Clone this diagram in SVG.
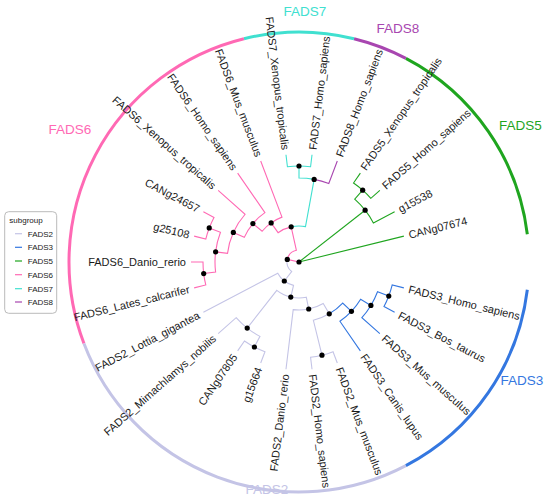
<svg xmlns="http://www.w3.org/2000/svg" width="550" height="501" viewBox="0 0 550 501">
<style>
text{font-family:"Liberation Sans",Arial,sans-serif}
.lab{font-size:11px;fill:#1a1a1a}
.end{text-anchor:end}
.e{fill:none;stroke-width:1.1}
.c2{stroke:#c4c4e6}.c3{stroke:#3477e0}.c5{stroke:#1fa51f}.c6{stroke:#ff69b4}.c7{stroke:#40e0d0}.c8{stroke:#a846b0}
.strip{fill:none;stroke-width:3}
.gl{font-size:13.5px}
.dot{fill:#000}
.lg{font-size:8px;fill:#1a1a1a}
</style>
<g id="strips">
<path class="strip c5" d="M527.32,234.28 A230,230 0 0 0 405.89,58.34"/>
<path class="strip c8" d="M405.89,58.34 A230,230 0 0 0 354.04,38.68"/>
<path class="strip c7" d="M354.04,38.68 A230,230 0 0 0 243.96,38.68"/>
<path class="strip c6" d="M243.96,38.68 A230,230 0 0 0 83.95,343.56"/>
<path class="strip c2" d="M83.95,343.56 A230,230 0 0 0 405.89,465.66"/>
<path class="strip c3" d="M405.89,465.66 A230,230 0 0 0 527.32,289.72"/>
</g>
<g id="group-labels">
<text class="gl" x="305" y="16" text-anchor="middle" fill="#40e0d0">FADS7</text>
<text class="gl" x="398" y="33" text-anchor="middle" fill="#a846b0">FADS8</text>
<text class="gl" x="499" y="130" fill="#1fa51f">FADS5</text>
<text class="gl" x="70" y="134" text-anchor="middle" fill="#ff69b4">FADS6</text>
<text class="gl" x="522" y="385" text-anchor="middle" fill="#3477e0">FADS3</text>
<text class="gl" x="267" y="494" text-anchor="middle" fill="#c4c4e6">FADS2</text>
</g>
<g id="connectors">
<path class="e c5" d="M299,262 L403.86,236.15"/>
<path class="e c5" d="M299,262 L365.12,210.20"/>
<path class="e c6" d="M299,262 L287.29,259.38"/>
<path class="e c5" d="M365.12,210.20 A84,84 0 0 1 373.38,222.96 L394.63,211.81"/>
<path class="e c5" d="M365.12,210.20 A84,84 0 0 0 354.70,199.13 L362.66,190.14"/>
<path class="e c5" d="M362.66,190.14 A96,96 0 0 1 370.86,198.34 L379.84,190.38"/>
<path class="e c5" d="M362.66,190.14 A96,96 0 0 0 353.53,182.99 L360.35,173.12"/>
<path class="e c6" d="M287.29,259.38 A12,12 0 0 1 296.39,250.29 L291.18,226.86"/>
<path class="e c2" d="M287.29,259.38 A12,12 0 0 0 291.65,271.49 L284.31,280.98"/>
<path class="e c7" d="M291.18,226.86 A36,36 0 0 1 305.49,226.59 L314.14,179.38"/>
<path class="e c6" d="M291.18,226.86 A36,36 0 0 0 278.10,232.68 L271.14,222.91"/>
<path class="e c8" d="M314.14,179.38 A84,84 0 0 1 328.79,183.46 L337.30,161.02"/>
<path class="e c7" d="M314.14,179.38 A84,84 0 0 0 299,178 L299,166"/>
<path class="e c7" d="M299,166 A96,96 0 0 1 310.57,166.70 L312.02,154.79"/>
<path class="e c7" d="M299,166 A96,96 0 0 0 287.43,166.70 L285.98,154.79"/>
<path class="e c6" d="M271.14,222.91 A48,48 0 0 1 281.98,217.12 L260.70,161.02"/>
<path class="e c6" d="M271.14,222.91 A48,48 0 0 0 262.13,231.27 L252.91,223.59"/>
<path class="e c6" d="M252.91,223.59 A60,60 0 0 1 264.92,212.62 L237.65,173.12"/>
<path class="e c6" d="M252.91,223.59 A60,60 0 0 0 244.29,237.37 L233.34,232.45"/>
<path class="e c6" d="M233.34,232.45 A72,72 0 0 1 245.11,214.26 L218.16,190.38"/>
<path class="e c6" d="M233.34,232.45 A72,72 0 0 0 227.52,253.32 L215.61,251.87"/>
<path class="e c6" d="M215.61,251.87 A84,84 0 0 1 220.46,232.21 L209.24,227.96"/>
<path class="e c6" d="M215.61,251.87 A84,84 0 0 0 215.61,272.13 L203.70,273.57"/>
<path class="e c6" d="M209.24,227.96 A96,96 0 0 1 214.00,217.39 L203.37,211.81"/>
<path class="e c6" d="M209.24,227.96 A96,96 0 0 0 205.79,239.03 L194.14,236.15"/>
<path class="e c6" d="M203.70,273.57 A96,96 0 0 1 203,262 L191,262"/>
<path class="e c6" d="M203.70,273.57 A96,96 0 0 0 205.79,284.97 L194.14,287.85"/>
<path class="e c2" d="M284.31,280.98 A24,24 0 0 1 277.75,273.15 L203.37,312.19"/>
<path class="e c2" d="M284.31,280.98 A24,24 0 0 0 293.52,285.37 L290.78,297.05"/>
<path class="e c2" d="M290.78,297.05 A36,36 0 0 1 276.80,290.34 L247.20,328.12"/>
<path class="e c2" d="M290.78,297.05 A36,36 0 0 0 306.29,297.25 L308.72,309.01"/>
<path class="e c2" d="M247.20,328.12 A84,84 0 0 1 236.13,317.70 L218.16,333.62"/>
<path class="e c2" d="M247.20,328.12 A84,84 0 0 0 259.96,336.38 L254.39,347.00"/>
<path class="e c2" d="M254.39,347.00 A96,96 0 0 1 244.47,341.01 L237.65,350.88"/>
<path class="e c2" d="M254.39,347.00 A96,96 0 0 0 264.96,351.76 L260.70,362.98"/>
<path class="e c2" d="M308.72,309.01 A48,48 0 0 1 293.21,309.65 L285.98,369.21"/>
<path class="e c2" d="M308.72,309.01 A48,48 0 0 0 323.21,303.45 L329.26,313.81"/>
<path class="e c2" d="M329.26,313.81 A60,60 0 0 1 313.36,320.26 L321.97,355.21"/>
<path class="e c3" d="M329.26,313.81 A60,60 0 0 0 342.69,303.13 L351.43,311.35"/>
<path class="e c2" d="M321.97,355.21 A96,96 0 0 1 310.57,357.30 L312.02,369.21"/>
<path class="e c2" d="M321.97,355.21 A96,96 0 0 0 333.04,351.76 L337.30,362.98"/>
<path class="e c3" d="M351.43,311.35 A72,72 0 0 1 339.90,321.25 L360.35,350.88"/>
<path class="e c3" d="M351.43,311.35 A72,72 0 0 0 360.62,299.25 L370.89,305.46"/>
<path class="e c3" d="M370.89,305.46 A84,84 0 0 1 361.87,317.70 L379.84,333.62"/>
<path class="e c3" d="M370.89,305.46 A84,84 0 0 0 377.54,291.79 L388.76,296.04"/>
<path class="e c3" d="M388.76,296.04 A96,96 0 0 1 384.00,306.61 L394.63,312.19"/>
<path class="e c3" d="M388.76,296.04 A96,96 0 0 0 392.21,284.97 L403.86,287.85"/>
</g>
<g id="internal-nodes">
<circle id="n-root" class="dot" cx="299" cy="262" r="2.6"/>
<circle id="n-A" class="dot" cx="365.12" cy="210.20" r="2.6"/>
<circle id="n-F5" class="dot" cx="362.66" cy="190.14" r="2.6"/>
<circle id="n-B" class="dot" cx="287.29" cy="259.38" r="2.6"/>
<circle id="n-C" class="dot" cx="291.18" cy="226.86" r="2.6"/>
<circle id="n-E" class="dot" cx="314.14" cy="179.38" r="2.6"/>
<circle id="n-P" class="dot" cx="299" cy="166" r="2.6"/>
<circle id="n-F" class="dot" cx="271.14" cy="222.91" r="2.6"/>
<circle id="n-Q" class="dot" cx="252.91" cy="223.59" r="2.6"/>
<circle id="n-R" class="dot" cx="233.34" cy="232.45" r="2.6"/>
<circle id="n-S" class="dot" cx="215.61" cy="251.87" r="2.6"/>
<circle id="n-T" class="dot" cx="209.24" cy="227.96" r="2.6"/>
<circle id="n-U" class="dot" cx="203.70" cy="273.57" r="2.6"/>
<circle id="n-D" class="dot" cx="284.31" cy="280.98" r="2.6"/>
<circle id="n-G" class="dot" cx="290.78" cy="297.05" r="2.6"/>
<circle id="n-H" class="dot" cx="247.20" cy="328.12" r="2.6"/>
<circle id="n-J" class="dot" cx="254.39" cy="347.00" r="2.6"/>
<circle id="n-I" class="dot" cx="308.72" cy="309.01" r="2.6"/>
<circle id="n-K" class="dot" cx="329.26" cy="313.81" r="2.6"/>
<circle id="n-L" class="dot" cx="321.97" cy="355.21" r="2.6"/>
<circle id="n-M" class="dot" cx="351.43" cy="311.35" r="2.6"/>
<circle id="n-N" class="dot" cx="370.89" cy="305.46" r="2.6"/>
<circle id="n-O" class="dot" cx="388.76" cy="296.04" r="2.6"/>
</g>
<g id="leaves">
<g id="leaf-CANg07674"><text class="lab" dy=".35em" transform="translate(408.72,234.96) rotate(-13.846)">CANg07674</text></g>
<g id="leaf-g15538"><text class="lab" dy=".35em" transform="translate(399.06,209.49) rotate(-27.692)">g15538</text></g>
<g id="leaf-FADS5_Homo_sapiens"><text class="lab" dy=".35em" transform="translate(383.58,187.07) rotate(-41.538)">FADS5_Homo_sapiens</text></g>
<g id="leaf-FADS5_Xenopus_tropicalis"><text class="lab" dy=".35em" transform="translate(363.19,169.00) rotate(-55.385)">FADS5_Xenopus_tropicalis</text></g>
<g id="leaf-FADS8_Homo_sapiens"><text class="lab" dy=".35em" transform="translate(339.07,156.34) rotate(-69.231)">FADS8_Homo_sapiens</text></g>
<g id="leaf-FADS7_Homo_sapiens"><text class="lab" dy=".35em" transform="translate(312.62,149.82) rotate(-83.077)">FADS7_Homo_sapiens</text></g>
<g id="leaf-FADS7_Xenopus_tropicalis"><text class="lab end" dy=".35em" transform="translate(285.38,149.82) rotate(83.077)">FADS7_Xenopus_tropicalis</text></g>
<g id="leaf-FADS6_Mus_musculus"><text class="lab end" dy=".35em" transform="translate(258.93,156.34) rotate(69.231)">FADS6_Mus_musculus</text></g>
<g id="leaf-FADS6_Homo_sapiens"><text class="lab end" dy=".35em" transform="translate(234.81,169.00) rotate(55.385)">FADS6_Homo_sapiens</text></g>
<g id="leaf-FADS6_Xenopus_tropicalis"><text class="lab end" dy=".35em" transform="translate(214.42,187.07) rotate(41.538)">FADS6_Xenopus_tropicalis</text></g>
<g id="leaf-CANg24657"><text class="lab end" dy=".35em" transform="translate(198.94,209.49) rotate(27.692)">CANg24657</text></g>
<g id="leaf-g25108"><text class="lab end" dy=".35em" transform="translate(189.28,234.96) rotate(13.846)">g25108</text></g>
<g id="leaf-FADS6_Danio_rerio"><text class="lab end" dy=".35em" transform="translate(186,262)">FADS6_Danio_rerio</text></g>
<g id="leaf-FADS6_Lates_calcarifer"><text class="lab end" dy=".35em" transform="translate(189.28,289.04) rotate(-13.846)">FADS6_Lates_calcarifer</text></g>
<g id="leaf-FADS2_Lottia_gigantea"><text class="lab end" dy=".35em" transform="translate(198.94,314.51) rotate(-27.692)">FADS2_Lottia_gigantea</text></g>
<g id="leaf-FADS2_Mimachlamys_nobilis"><text class="lab end" dy=".35em" transform="translate(214.42,336.93) rotate(-41.538)">FADS2_Mimachlamys_nobilis</text></g>
<g id="leaf-CANg07805"><text class="lab end" dy=".35em" transform="translate(234.81,355.00) rotate(-55.385)">CANg07805</text></g>
<g id="leaf-g15664"><text class="lab end" dy=".35em" transform="translate(258.93,367.66) rotate(-69.231)">g15664</text></g>
<g id="leaf-FADS2_Danio_rerio"><text class="lab end" dy=".35em" transform="translate(285.38,374.18) rotate(-83.077)">FADS2_Danio_rerio</text></g>
<g id="leaf-FADS2_Homo_sapiens"><text class="lab" dy=".35em" transform="translate(312.62,374.18) rotate(83.077)">FADS2_Homo_sapiens</text></g>
<g id="leaf-FADS2_Mus_musculus"><text class="lab" dy=".35em" transform="translate(339.07,367.66) rotate(69.231)">FADS2_Mus_musculus</text></g>
<g id="leaf-FADS3_Canis_lupus"><text class="lab" dy=".35em" transform="translate(363.19,355.00) rotate(55.385)">FADS3_Canis_lupus</text></g>
<g id="leaf-FADS3_Mus_musculus"><text class="lab" dy=".35em" transform="translate(383.58,336.93) rotate(41.538)">FADS3_Mus_musculus</text></g>
<g id="leaf-FADS3_Bos_taurus"><text class="lab" dy=".35em" transform="translate(399.06,314.51) rotate(27.692)">FADS3_Bos_taurus</text></g>
<g id="leaf-FADS3_Homo_sapiens"><text class="lab" dy=".35em" transform="translate(408.72,288.96) rotate(13.846)">FADS3_Homo_sapiens</text></g>
</g>
<g id="legend">
<rect x="4.7" y="211.7" width="52" height="101.6" rx="4" fill="#fff" stroke="#bbbbbb" stroke-width="1"/>
<text class="lg" x="9.3" y="223">subgroup</text>
<line class="c2" x1="15" y1="233.7" x2="22" y2="233.7" stroke-width="1.2"/>
<text class="lg" x="27.7" y="236.5">FADS2</text>
<line class="c3" x1="15" y1="247.3" x2="22" y2="247.3" stroke-width="1.2"/>
<text class="lg" x="27.7" y="250.1">FADS3</text>
<line class="c5" x1="15" y1="261" x2="22" y2="261" stroke-width="1.2"/>
<text class="lg" x="27.7" y="263.8">FADS5</text>
<line class="c6" x1="15" y1="274.7" x2="22" y2="274.7" stroke-width="1.2"/>
<text class="lg" x="27.7" y="277.5">FADS6</text>
<line class="c7" x1="15" y1="288.7" x2="22" y2="288.7" stroke-width="1.2"/>
<text class="lg" x="27.7" y="291.5">FADS7</text>
<line class="c8" x1="15" y1="302" x2="22" y2="302" stroke-width="1.2"/>
<text class="lg" x="27.7" y="304.8">FADS8</text>
</g>
</svg>
